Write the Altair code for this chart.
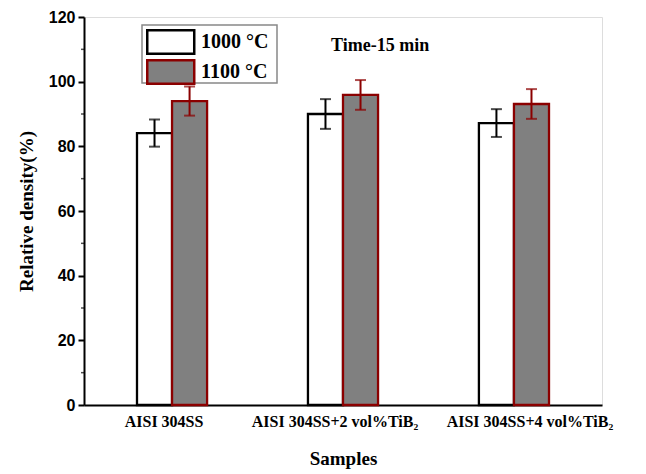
import altair as alt
import pandas as pd

samples = ["AISI 304SS", "AISI 304SS+2 vol%TiB\u2082", "AISI 304SS+4 vol%TiB\u2082"]
temps = ["1000 \u00b0C", "1100 \u00b0C"]
dens_1000 = [84.1, 90.0, 87.2]
dens_1100 = [94.0, 95.9, 93.1]
err_1000 = [4.2, 4.6, 4.3]
err_1100 = [4.5, 4.6, 4.6]
y_major = [0, 20, 40, 60, 80, 100, 120]
y_minor = [10, 30, 50, 70, 90, 110]
note = "Time-15 min"

rows = []
for i, s in enumerate(samples):
    rows.append({"sample": s, "temp": temps[0], "val": dens_1000[i], "err": err_1000[i]})
    rows.append({"sample": s, "temp": temps[1], "val": dens_1100[i], "err": err_1100[i]})
df = pd.DataFrame(rows)

serif = "Liberation Serif"
sans = "Liberation Sans"

xscale = alt.Scale(domain=samples, paddingInner=0.59, paddingOuter=0.31)
yscale = alt.Scale(domain=[0, 120], nice=False)
offscale = alt.Scale(domain=temps, paddingInner=0, paddingOuter=0)
fillscale = alt.Scale(domain=temps, range=["white", "#808080"])
strokescale = alt.Scale(domain=temps, range=["black", "#8B0000"])

xaxis = alt.Axis(title="Samples", labelFont=serif, labelFontWeight="bold", labelFontSize=16,
                 labelColor="black", labelAngle=0, labelPadding=8, ticks=False,
                 domainColor="black", domainWidth=2, titleFont=serif, titleFontSize=19,
                 titleFontWeight="bold", titleColor="black", titlePadding=20,
                 labelOffset=alt.ExprRef(expr="datum.index > 0.9 ? 16 : -8"),
                 labelOverlap=False)
yaxis = alt.Axis(title="Relative density(%)", values=y_major, orient="left",
                 labelFont=sans, labelFontWeight="bold", labelFontSize=16, labelColor="black",
                 tickColor="black", tickWidth=2, tickSize=6, labelPadding=3,
                 domainColor="black", domainWidth=2, titleFont=serif, titleFontSize=19,
                 titleFontWeight="bold", titleColor="black", titlePadding=12, grid=False)

base = alt.Chart(df).transform_calculate(lo="datum.val - datum.err", hi="datum.val + datum.err")

legend = alt.Legend(title=None, orient="none", legendX=58, legendY=8, direction="vertical",
                    labelFont=serif, labelFontSize=20, labelFontWeight="bold", labelColor="black",
                    labelBaseline="middle", labelLimit=0,
                    symbolType="M-1,-1H3V1H-1Z", symbolSize=552, symbolStrokeWidth=2.5,
                    padding=4, rowPadding=-5, labelOffset=29)

# legend frame (decoration)
frame = alt.Chart(pd.DataFrame({"f": [0]})).mark_rect(
    fill="white", stroke="#888888", strokeWidth=1.5
).encode(x=alt.value(58), x2=alt.value(193), y=alt.value(8), y2=alt.value(66))

bars = base.mark_bar(strokeWidth=2.3).encode(
    x=alt.X("sample:N", scale=xscale, axis=xaxis, sort=samples),
    xOffset=alt.XOffset("temp:N", scale=offscale),
    y=alt.Y("val:Q", scale=yscale, axis=yaxis),
    fill=alt.Fill("temp:N", scale=fillscale, legend=legend),
    stroke=alt.Stroke("temp:N", scale=strokescale, legend=legend),
)

rules = base.mark_rule(strokeWidth=2).encode(
    x=alt.X("sample:N", scale=xscale, sort=samples),
    xOffset=alt.XOffset("temp:N", scale=offscale),
    y=alt.Y("lo:Q", scale=yscale),
    y2="hi:Q",
    stroke=alt.Stroke("temp:N", scale=strokescale, legend=None),
)

cap_lo = base.mark_tick(size=11, thickness=2).encode(
    x=alt.X("sample:N", scale=xscale, sort=samples),
    xOffset=alt.XOffset("temp:N", scale=offscale),
    y=alt.Y("lo:Q", scale=yscale),
    color=alt.Color("temp:N", scale=strokescale, legend=None),
)
cap_hi = base.mark_tick(size=11, thickness=2).encode(
    x=alt.X("sample:N", scale=xscale, sort=samples),
    xOffset=alt.XOffset("temp:N", scale=offscale),
    y=alt.Y("hi:Q", scale=yscale),
    color=alt.Color("temp:N", scale=strokescale, legend=None),
)

minor = alt.Chart(pd.DataFrame({"v": y_minor})).mark_tick(
    size=4, thickness=1.5, color="black", orient="horizontal", clip=False
).encode(
    y=alt.Y("v:Q", scale=yscale),
    x=alt.value(-1),
)

label = alt.Chart(pd.DataFrame({"t": [note]})).mark_text(
    font=serif, fontSize=18, fontWeight="bold", color="black", align="left", baseline="middle"
).encode(text="t:N", x=alt.value(247), y=alt.value(29))

chart = alt.layer(bars, rules, cap_lo, cap_hi, minor, frame, label).properties(
    width=518, height=388,
    autosize=alt.AutoSizeParams(type="none"),
    padding={"left": 84, "top": 17, "right": 44, "bottom": 69},
).configure_view(stroke="black", strokeWidth=2).configure(background="white")

chart.save("out.html", embed_options={"renderer": "svg", "actions": False})
